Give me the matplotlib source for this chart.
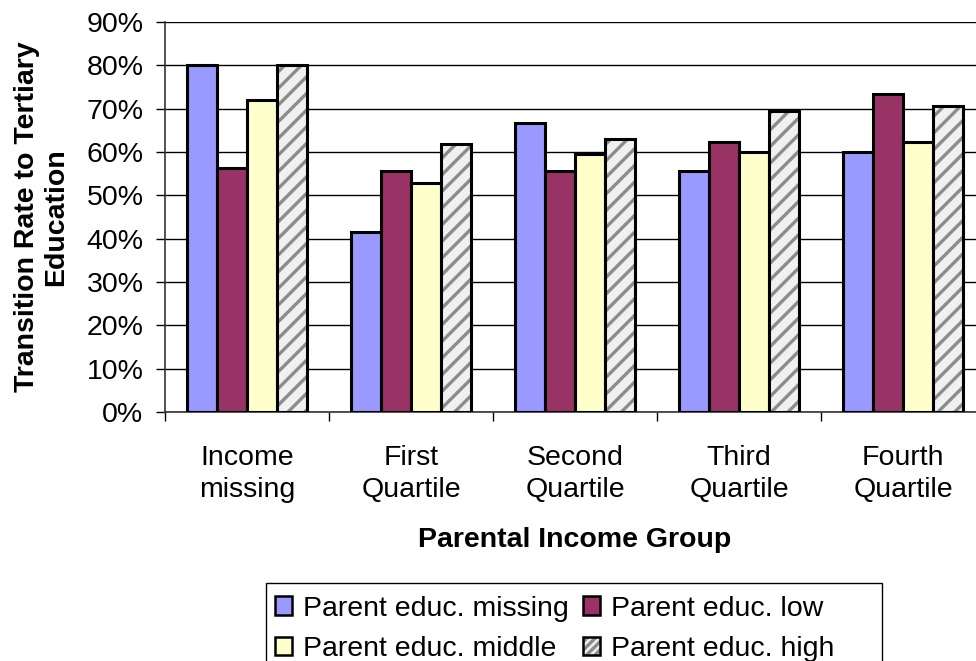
import matplotlib
matplotlib.use("Agg")
import matplotlib.pyplot as plt
import numpy as np
from matplotlib.ticker import PercentFormatter, FixedLocator
from matplotlib.patches import Rectangle

categories = ["Income\nmissing", "First\nQuartile", "Second\nQuartile", "Third\nQuartile", "Fourth\nQuartile"]
series_names = ["Parent educ. missing", "Parent educ. low", "Parent educ. middle", "Parent educ. high"]
educ_missing = [80.0, 41.5, 66.6, 55.5, 60.0]
educ_low = [56.3, 55.5, 55.5, 62.2, 73.4]
educ_middle = [71.9, 52.9, 59.6, 60.0, 62.2]
educ_high = [80.0, 61.9, 63.0, 69.5, 70.7]
yticks = [0, 10, 20, 30, 40, 50, 60, 70, 80, 90]

colors = ["#9999FF", "#993366", "#FFFFCC", "#F0F0F0"]
hatch_color = "#8C8C8C"

plt.rcParams['font.family'] = ['Liberation Sans', 'DejaVu Sans']
plt.rcParams['hatch.color'] = hatch_color
plt.rcParams['hatch.linewidth'] = 2.4

FS = 20.5
W, H = 976, 661
fig = plt.figure(figsize=(W/100, H/100), dpi=100)
ax = fig.add_axes([165/W, 1-412/H, 820/W, 390/H])

x = np.arange(len(categories))
w = 1/5.5
data = [educ_missing, educ_low, educ_middle, educ_high]
for j, vals in enumerate(data):
    pos = x + (j - 1.5) * w
    if j < 3:
        ax.bar(pos, vals, width=w, color=colors[j], edgecolor="black", linewidth=2.2, zorder=3)
    else:
        ax.bar(pos, vals, width=w, color=colors[j], edgecolor=hatch_color, hatch="//",
               linewidth=0, zorder=3)
        ax.bar(pos, vals, width=w, facecolor="none", edgecolor="black", linewidth=2.2, zorder=4)

ax.set_xlim(-0.5, len(categories) - 0.5)
ax.set_ylim(0, 90)
ax.yaxis.set_major_locator(FixedLocator(yticks))
ax.yaxis.set_major_formatter(PercentFormatter(decimals=0))
ax.yaxis.grid(True, color="black", linewidth=1.0, zorder=0)
ax.set_axisbelow(True)

ax.set_xticks(x)
ax.set_xticklabels(categories, fontsize=FS, linespacing=1.3)
ax.set_xticks(np.arange(len(categories) + 1) - 0.5, minor=True)
ax.tick_params(axis='x', which='major', length=0, pad=23.5)
ax.tick_params(axis='x', which='minor', length=6.5, width=1.0, direction='out')
ax.tick_params(axis='y', which='major', length=6.5, width=1.0, direction='out', pad=9, labelsize=FS)

for s in ["top", "right"]:
    ax.spines[s].set_visible(False)
ax.spines["left"].set_color("#333333")
ax.spines["bottom"].set_color("#333333")
ax.spines["left"].set_linewidth(1.2)
ax.spines["bottom"].set_linewidth(1.2)

ax.set_ylabel("Transition Rate to Tertiary\nEducation", fontsize=FS, fontweight="bold", linespacing=1.12)
ax.yaxis.label.set_va("center")
ax.yaxis.set_label_coords((41.5 - 165) / 820, 0.5)
ax.set_xlabel("Parental Income Group", fontsize=FS, fontweight="bold")
ax.xaxis.label.set_va("center")
ax.xaxis.set_label_coords(0.5, (412 - 540) / 390)

h_missing = Rectangle((0, 0), 1, 1, facecolor=colors[0], edgecolor="black", linewidth=1.8)
h_low = Rectangle((0, 0), 1, 1, facecolor=colors[1], edgecolor="black", linewidth=1.8)
h_middle = Rectangle((0, 0), 1, 1, facecolor=colors[2], edgecolor="black", linewidth=1.8)
h_high = (Rectangle((0, 0), 1, 1, facecolor=colors[3], edgecolor=hatch_color, hatch="////", linewidth=0),
          Rectangle((0, 0), 1, 1, facecolor="none", edgecolor="black", linewidth=1.8))
# column-wise fill: col1 = missing, middle ; col2 = low, high
handles = [h_missing, h_middle, h_low, h_high]
labels = [series_names[0], series_names[2], series_names[1], series_names[3]]
leg = fig.legend(handles, labels, loc="upper left",
                 bbox_to_anchor=(266/W, 1 - 587/H), ncol=2, fontsize=FS,
                 frameon=False, borderaxespad=0,
                 borderpad=0.3, handlelength=0.6, handleheight=0.6, handletextpad=0.4,
                 columnspacing=0.5, labelspacing=0.5)

# legend box (Excel-style fixed-width frame, cut off at the bottom)
frame = Rectangle((266/W, -0.05), (882-266)/W, (1 - 583/H) + 0.05,
                  transform=fig.transFigure, facecolor="none", edgecolor="black",
                  linewidth=1.0, zorder=0)
fig.patches.append(frame)

fig.savefig("out.png", dpi=100)
